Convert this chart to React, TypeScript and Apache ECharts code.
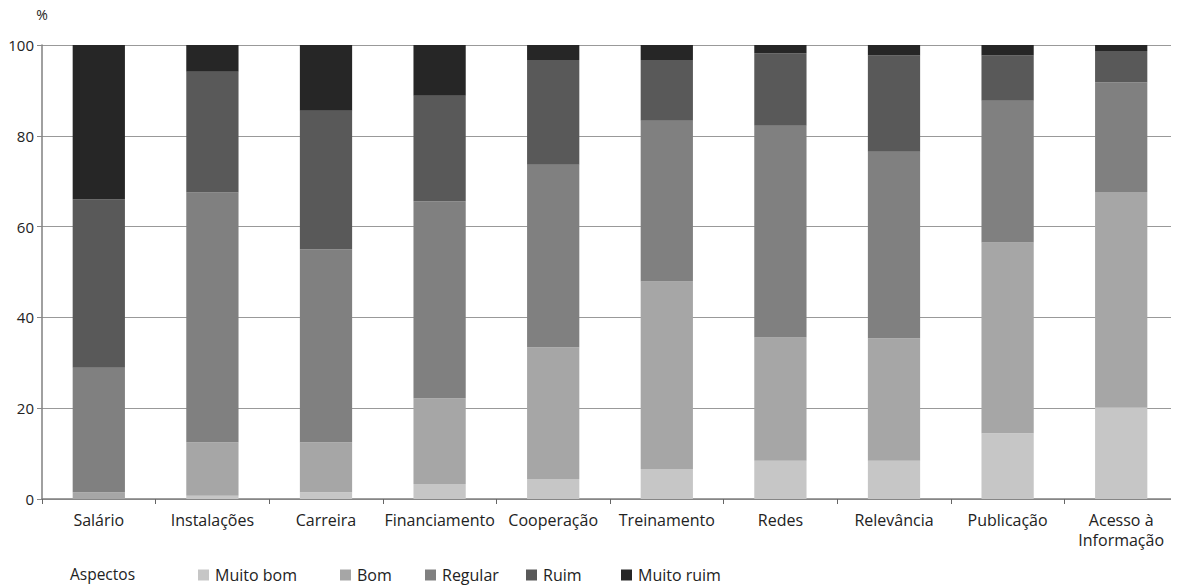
import React, { useEffect, useRef } from "react";
import * as echarts from "echarts";

const categories = [
  "Salário",
  "Instalações",
  "Carreira",
  "Financiamento",
  "Cooperação",
  "Treinamento",
  "Redes",
  "Relevância",
  "Publicação",
  "Acesso à\nInformação",
];

const seriesNames = ["Muito bom", "Bom", "Regular", "Ruim", "Muito ruim"];
const seriesColors = ["#c6c6c6", "#a6a6a6", "#808080", "#595959", "#262626"];

const muitoBom = [0, 0.7, 1.5, 3.3, 4.4, 6.6, 8.4, 8.4, 14.5, 20.1];
const bom = [1.5, 11.8, 11.0, 18.9, 29.0, 41.3, 27.2, 27.0, 42.0, 47.5];
const regular = [27.4, 55.0, 42.5, 43.4, 40.2, 35.4, 46.6, 41.1, 31.2, 24.2];
const ruim = [37.1, 26.6, 30.5, 23.2, 23.1, 13.4, 16.0, 21.2, 10.0, 6.9];
const muitoRuim = [34.0, 5.9, 14.5, 11.2, 3.3, 3.3, 1.8, 2.3, 2.3, 1.3];

const yTicks = [0, 20, 40, 60, 80, 100];

const seriesData = [muitoBom, bom, regular, ruim, muitoRuim];

const legendLeft = [198, 340, 425, 526, 621];

const FONT = "Open Sans";

export default function App() {
  const ref = useRef<HTMLDivElement>(null);
  useEffect(() => {
    if (!ref.current) return;
    const chart = echarts.init(ref.current, null, { renderer: "svg" });
    chart.setOption({
      animation: false,
      backgroundColor: "#ffffff",
      textStyle: { fontFamily: FONT, color: "#222" },
      grid: { left: 42, right: 1, top: 45, bottom: 89, containLabel: false },
      legend: seriesNames.map((name, i) => ({
        data: [name],
        left: legendLeft[i],
        top: 567,
        padding: 0,
        itemWidth: 11,
        itemHeight: 11,
        itemGap: 0,
        icon: "rect",
        textStyle: { fontFamily: FONT, fontSize: 16, color: "#222", padding: [0, 0, 0, 1] },
      })),
      graphic: [
        {
          type: "text",
          left: 70,
          top: 566,
          style: { text: "Aspectos", font: `15.5px "${FONT}"`, fill: "#222" },
        },
      ],
      xAxis: {
        type: "category",
        data: categories,
        axisLine: { lineStyle: { color: "#808080", width: 1.5 } },
        axisTick: { show: true, length: 5, lineStyle: { color: "#666" } },
        axisLabel: {
          fontFamily: FONT,
          fontSize: 16,
          color: "#222",
          margin: 11,
          lineHeight: 20,
          interval: 0,
        },
      },
      yAxis: {
        type: "value",
        min: yTicks[0],
        max: yTicks[yTicks.length - 1],
        interval: 20,
        name: "%",
        nameLocation: "end",
        nameGap: 24,
        nameTextStyle: { fontFamily: FONT, fontSize: 14, color: "#222", align: "center" },
        axisLine: { show: true, lineStyle: { color: "#808080", width: 1.5 } },
        axisTick: { show: true, length: 5, lineStyle: { color: "#888" } },
        axisLabel: { fontFamily: FONT, fontSize: 15, color: "#222", margin: 8 },
        splitLine: { show: true, lineStyle: { color: "#999", width: 1.2 } },
      },
      series: seriesNames.map((name, i) => ({
        name,
        type: "bar",
        stack: "total",
        barWidth: "46%",
        data: seriesData[i],
        itemStyle: { color: seriesColors[i] },
      })),
    });
    return () => chart.dispose();
  }, []);
  return <div ref={ref} style={{ width: 1179, height: 588, marginLeft: -8, marginTop: -8 }} />;
}
